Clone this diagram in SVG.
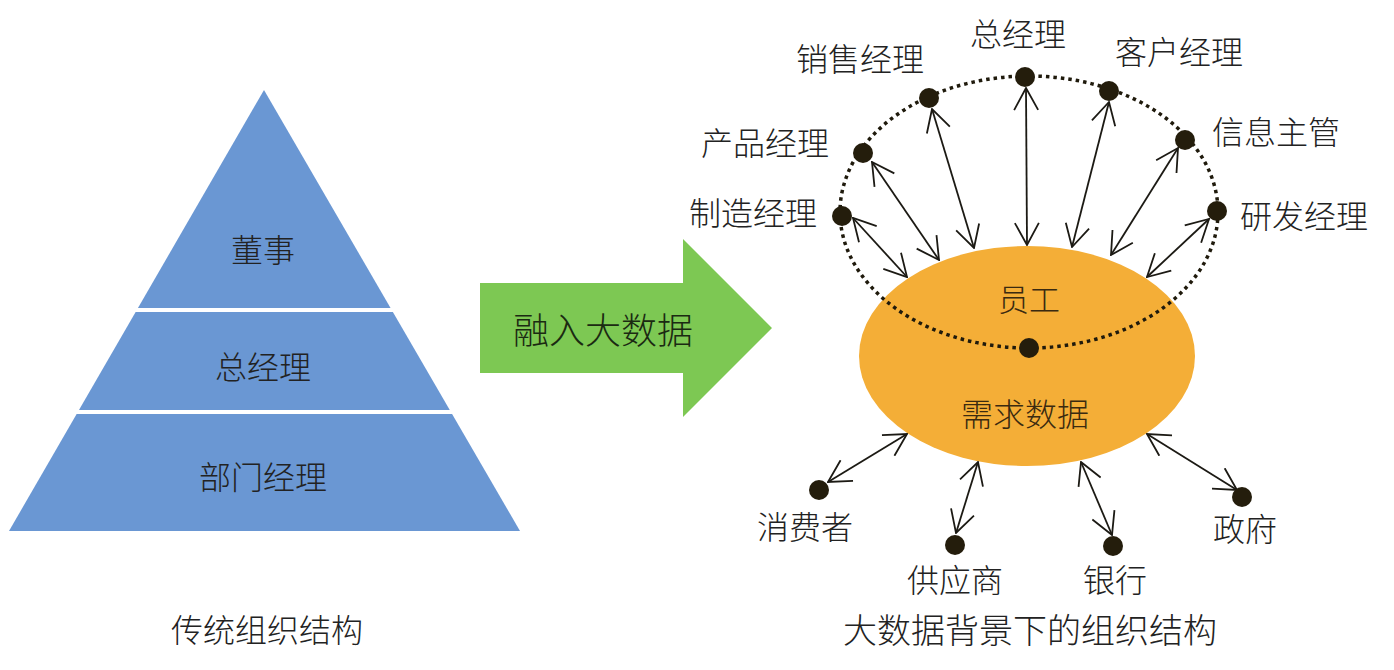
<svg xmlns="http://www.w3.org/2000/svg" width="1394" height="670" viewBox="0 0 1394 670">
<defs>
<style>
.t{font-family:"Noto Sans CJK SC","Liberation Sans",sans-serif;font-weight:300;fill:#222;text-anchor:middle;dominant-baseline:central}
.lbl{font-size:32px}
.ln{stroke:#1c1a14;stroke-width:1.8;fill:none;marker-start:url(#ah);marker-end:url(#ah)}
.dot{fill:#241d0c}
</style>
<marker id="ah" viewBox="0 0 24 26" refX="23" refY="13" markerWidth="24" markerHeight="26" markerUnits="userSpaceOnUse" orient="auto-start-reverse">
<path d="M1,1 L23,13 L1,25" fill="none" stroke="#1c1a14" stroke-width="1.8"/>
</marker>
</defs>
<rect width="1394" height="670" fill="#fff"/>

<g id="pyramid">
<polygon points="264,90 520,531 9,531" fill="#6a97d3"/>
<line x1="0" y1="310" x2="540" y2="310" stroke="#fff" stroke-width="4"/>
<line x1="0" y1="412" x2="540" y2="412" stroke="#fff" stroke-width="4"/>
<text class="t" x="263" y="248" font-size="32">董事</text>
<text class="t" x="263" y="365" font-size="32">总经理</text>
<text class="t" x="263" y="475" font-size="32">部门经理</text>
</g>
<g id="caption-left"><text class="t" x="267" y="628" font-size="32">传统组织结构</text></g>

<g id="green-arrow">
<polygon points="480,283 683,283 683,239 772,328 683,417 683,373 480,373" fill="#7dc853"/>
<text class="t" x="603" y="328" font-size="36" style="fill:#1b2a12">融入大数据</text>
</g>

<g id="center">
<ellipse cx="1027" cy="356" rx="168" ry="110" fill="#f4ae37"/>
<text class="t" x="1029" y="297" font-size="31" style="fill:#3a2a10">员工</text>
<text class="t" x="1025" y="412" font-size="32" style="fill:#3a2a10">需求数据</text>
</g>
<g id="ring"><ellipse cx="1029" cy="212" rx="189" ry="136" fill="none" stroke="#1f1a0c" stroke-width="3.5" stroke-dasharray="3.5 4"/></g>

<g id="connectors">
<line class="ln" x1="853" y1="218" x2="907" y2="277"/>
<line class="ln" x1="872" y1="162" x2="939" y2="260"/>
<line class="ln" x1="932" y1="109" x2="974" y2="248"/>
<line class="ln" x1="1026" y1="88" x2="1027" y2="245"/>
<line class="ln" x1="1109" y1="102" x2="1072" y2="247"/>
<line class="ln" x1="1178" y1="148" x2="1111" y2="255"/>
<line class="ln" x1="1209" y1="219" x2="1147" y2="277"/>
<line class="ln" x1="828" y1="482" x2="907" y2="434"/>
<line class="ln" x1="956" y1="533" x2="978" y2="462"/>
<line class="ln" x1="1081" y1="462" x2="1112" y2="535"/>
<line class="ln" x1="1147" y1="434" x2="1237" y2="490"/>
</g>

<g id="n-zhizao"><circle class="dot" cx="842" cy="216" r="10"/><text class="t lbl" x="753" y="211">制造经理</text></g>
<g id="n-chanpin"><circle class="dot" cx="863" cy="153" r="10"/><text class="t lbl" x="765" y="141">产品经理</text></g>
<g id="n-xiaoshou"><circle class="dot" cx="929" cy="98" r="10"/><text class="t lbl" x="860" y="57">销售经理</text></g>
<g id="n-zong"><circle class="dot" cx="1025" cy="77" r="10"/><text class="t lbl" x="1018" y="32">总经理</text></g>
<g id="n-kehu"><circle class="dot" cx="1109" cy="91" r="10"/><text class="t lbl" x="1179" y="50">客户经理</text></g>
<g id="n-xinxi"><circle class="dot" cx="1185" cy="140" r="10"/><text class="t lbl" x="1276" y="130">信息主管</text></g>
<g id="n-yanfa"><circle class="dot" cx="1217" cy="211" r="10"/><text class="t lbl" x="1304" y="214">研发经理</text></g>
<g id="n-yuangong"><circle class="dot" cx="1029" cy="348" r="10"/></g>
<g id="n-xiaofei"><circle class="dot" cx="819" cy="490" r="10"/><text class="t lbl" x="805" y="525">消费者</text></g>
<g id="n-gongying"><circle class="dot" cx="955" cy="545" r="10"/><text class="t lbl" x="955" y="578">供应商</text></g>
<g id="n-yinhang"><circle class="dot" cx="1113" cy="546" r="10"/><text class="t lbl" x="1115" y="578">银行</text></g>
<g id="n-zhengfu"><circle class="dot" cx="1242" cy="497" r="10"/><text class="t lbl" x="1245" y="527">政府</text></g>

<g id="caption-right"><text class="t" x="1030" y="628" font-size="34">大数据背景下的组织结构</text></g>
</svg>
